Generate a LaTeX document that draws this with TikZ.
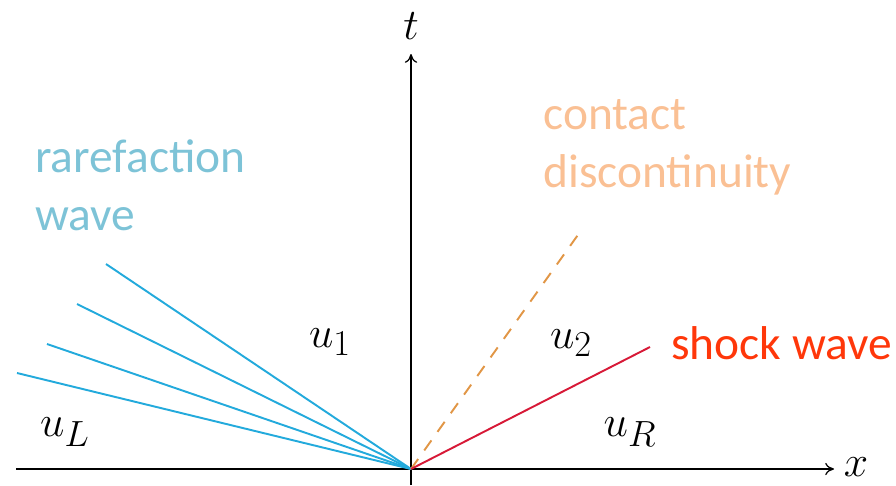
\documentclass[tikz,border=0pt]{standalone}
\usepackage{fontspec}
\setsansfont{Carlito}
\usetikzlibrary{arrows.meta}
\definecolor{RareBlue}{RGB}{35,170,220}
\definecolor{RareText}{RGB}{125,195,215}
\definecolor{ContactOrange}{RGB}{225,150,70}
\definecolor{ContactText}{RGB}{250,192,148}
\definecolor{ShockRed}{RGB}{215,25,55}
\definecolor{ShockText}{RGB}{255,55,10}

\begin{document}
\begin{tikzpicture}[x=0.02cm, y=-0.02cm,
          axis/.style={-{To[length=5pt, width=7pt]}, draw=black, line width=0.7pt},
          fan/.style={draw=RareBlue, line width=1.1pt},
          lbl/.style={inner sep=0pt, font=\fontsize{29}{34}\selectfont},
          note/.style={inner sep=0pt, anchor=west, align=left,
                       font=\sffamily\fontsize{27}{33}\selectfont}
        ]
        \useasboundingbox (0,0) rectangle (896,485);
        % Axes
        \coordinate (o) at (411,469);
        \coordinate (xs) at (16,469);
        \coordinate (xe) at (834,469);
        \coordinate (tb) at (411,485);
        \coordinate (te) at (411,54);
        \draw[axis] (xs) -- (xe);
        \draw[axis] (tb) -- (te);
        \node[lbl] (xl) at (856,467) {$x$};
        \node[lbl] (tl) at (411,26) {$t$};

        % Rarefaction fan
        \foreach \px/\py [count=\i] in {106/264, 77/304, 47/344, 17/373} {
          \coordinate (r\i) at (\px,\py);
          \draw[fan] (o) -- (r\i);
        }
        \node[note, text=RareText] (rare) at (35,185) {rarefaction\\wave};

        % Contact discontinuity
        \coordinate (c) at (580,232);
        \draw[draw=ContactOrange, line width=1.1pt, dash pattern=on 7pt off 6pt] (o) -- (c);
        \node[note, text=ContactText] (cont) at (543,147) {contact\\discontinuity};

        % Shock
        \coordinate (s) at (650,347);
        \draw[draw=ShockRed, line width=1.1pt] (o) -- (s);
        \node[note, text=ShockText] (shock) at (671,343) {shock wave};

        % States
        \node[lbl] (uL) at (65,432) {$u_L$};
        \node[lbl] (u1) at (330,342) {$u_1$};
        \node[lbl] (u2) at (571,343) {$u_2$};
        \node[lbl] (uR) at (630,432) {$u_R$};
      \end{tikzpicture}
\end{document}
